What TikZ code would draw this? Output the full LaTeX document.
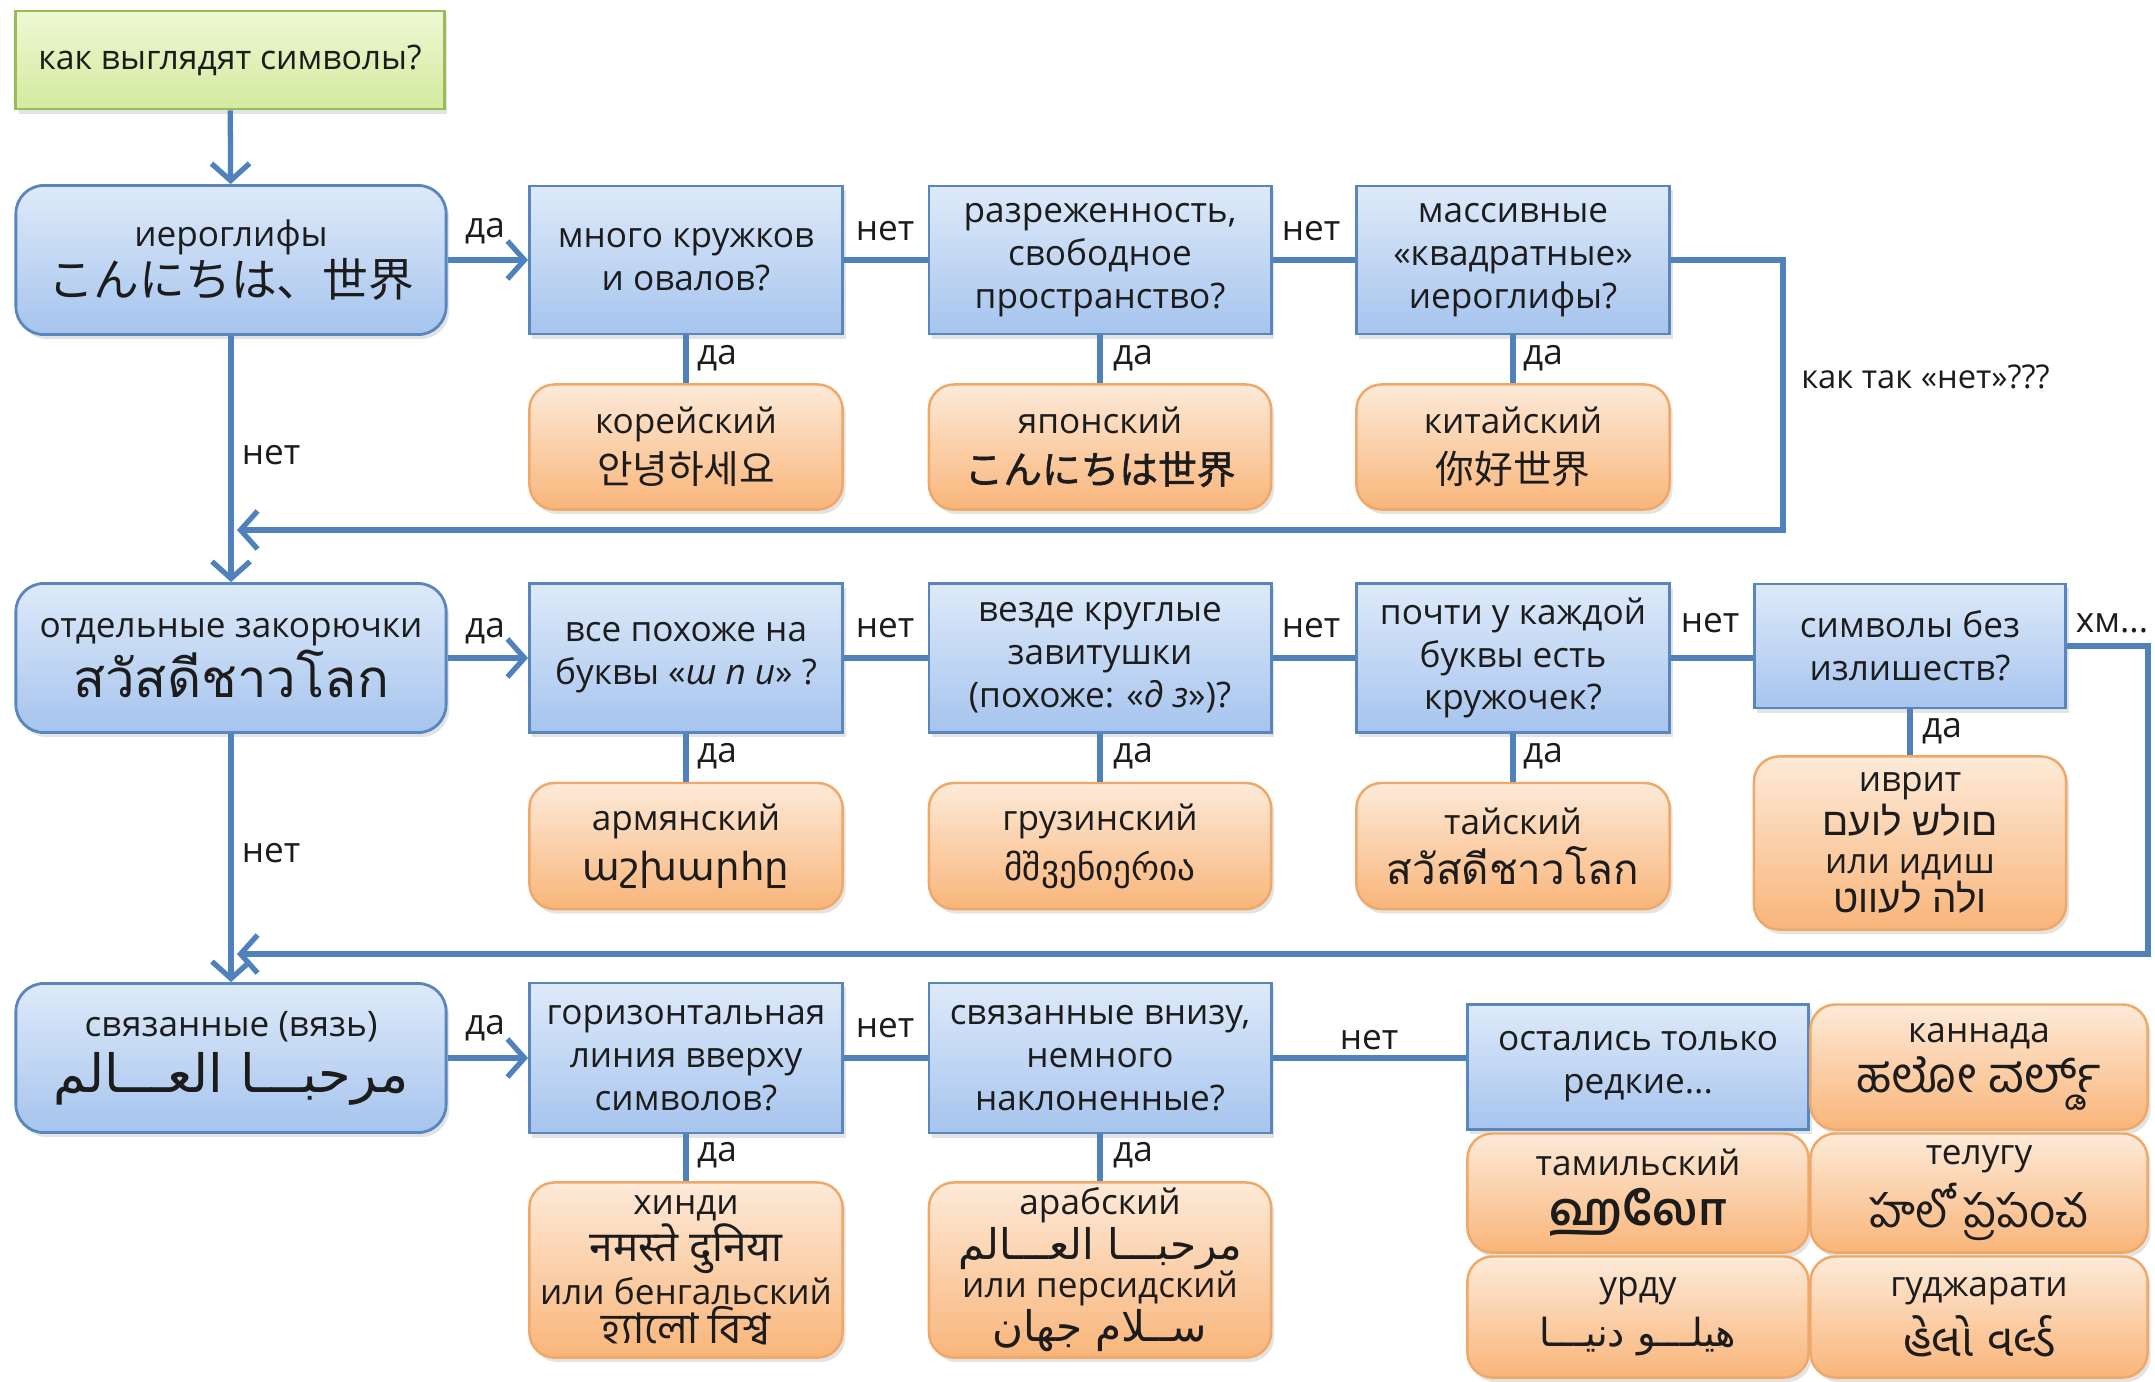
\documentclass[tikz,border=0pt]{standalone}
\usepackage{fontspec}
\setmainfont{Open Sans}
\newfontfamily\jpfont{Noto Sans CJK JP}
\newfontfamily\jpbold[FakeBold=1.5]{Noto Sans CJK JP}
\newfontfamily\krfont{Noto Sans CJK KR}
\newfontfamily\scfont{Noto Sans CJK SC}
\newfontfamily\thaifont[Script=Thai]{Loma}
\newfontfamily\armfont{DejaVu Sans}
\newfontfamily\geofont{DejaVu Sans}
\newfontfamily\hebfont[Script=Hebrew]{Liberation Sans}
\newfontfamily\arabicfont[Script=Arabic]{DejaVu Sans}
\newfontfamily\devafont[Script=Devanagari]{Noto Sans}
\newfontfamily\bengfont[Script=Bengali]{Hind Siliguri}
\newfontfamily\tamfont[Script=Tamil]{Hind Madurai}
\newfontfamily\telfont[Script=Telugu]{Hind Guntur}
\newfontfamily\kanfont[Script=Kannada]{Hind Mysuru}
\newfontfamily\gujfont[Script=Gujarati]{Noto Sans Gujarati UI}
\TeXXeTstate=1
\usetikzlibrary{arrows.meta,shadows}
\definecolor{lnblue}{HTML}{4F81BD}
\definecolor{bluetop}{HTML}{DEEAF9}
\definecolor{bluebot}{HTML}{A6C4EE}
\definecolor{blueedge}{HTML}{5A86BE}
\definecolor{ortop}{HTML}{FDEAD8}
\definecolor{orbot}{HTML}{F9B57A}
\definecolor{oredge}{HTML}{EFA868}
\definecolor{grtop}{HTML}{EEF8D4}
\definecolor{grbot}{HTML}{D3EA9E}
\definecolor{gredge}{HTML}{9BBB59}
\definecolor{txt}{HTML}{1C1C1C}
\tikzset{
  base/.style={align=center, inner sep=0pt, text=txt,
    font=\fontsize{10}{12.2}\selectfont,
    drop shadow={shadow xshift=0.03cm, shadow yshift=-0.045cm, opacity=0.22}},
  qbox/.style={base, draw=blueedge, line width=0.8pt, top color=bluetop, bottom color=bluebot},
  lbox/.style={qbox, rounded corners=0.28cm},
  rbox/.style={base, draw=oredge, line width=0.7pt, top color=ortop, bottom color=orbot, rounded corners=0.25cm},
  sbox/.style={base, draw=gredge, line width=0.8pt, top color=grtop, bottom color=grbot},
  conn/.style={draw=lnblue, line width=1.5pt},
  arr/.style={conn, -{Straight Barb[length=0.17cm,width=0.38cm,line width=1.5pt]}},
  lab/.style={font=\fontsize{10}{12}\selectfont, inner sep=1pt, text=txt},
}
\begin{document}
\begin{tikzpicture}[x=0.01cm,y=-0.01cm]
\useasboundingbox[fill=white] (0,0) rectangle (2155,1381);

% ---- left column
\node[sbox, minimum width=4.28cm, minimum height=0.98cm, font=\fontsize{9.6}{12}\selectfont] (start) at (230,60) {как выглядят символы?};
\node[lbox, minimum width=4.30cm, minimum height=1.49cm] (hier) at (231,260)
  {иероглифы\\{\jpfont\fontsize{13}{15}\selectfont こんにちは、世界}};
\node[lbox, minimum width=4.30cm, minimum height=1.49cm] (zak) at (231,658)
  {отдельные закорючки\\{\thaifont\fontsize{15}{15}\selectfont สวัสดีชาวโลก}};
\node[lbox, minimum width=4.30cm, minimum height=1.49cm] (svyaz) at (231,1058)
  {связанные (вязь)\\[2pt]{\arabicfont\fontsize{15}{16}\selectfont\beginR مرحبـــا العـــالم\endR}};

% ---- row 1
\node[qbox, minimum width=3.13cm, minimum height=1.48cm] (q11) at (686,260) {много кружков\\и овалов?};
\node[qbox, minimum width=3.42cm, minimum height=1.48cm] (q12) at (1100,260) {разреженность,\\свободное\\пространство?};
\node[qbox, minimum width=3.13cm, minimum height=1.48cm] (q13) at (1513,260) {массивные\\«квадратные»\\иероглифы?};
\node[rbox, minimum width=3.13cm, minimum height=1.25cm] (r11) at (686,447)
  {корейский\\[2pt]{\krfont\fontsize{11}{13}\selectfont 안녕하세요}};
\node[rbox, minimum width=3.42cm, minimum height=1.25cm] (r12) at (1100,447)
  {японский\\[2pt]{\jpbold\fontsize{11}{13}\selectfont こんにちは世界}};
\node[rbox, minimum width=3.13cm, minimum height=1.25cm] (r13) at (1513,447)
  {китайский\\[2pt]{\scfont\fontsize{11}{13}\selectfont 你好世界}};

% ---- row 2
\node[qbox, minimum width=3.13cm, minimum height=1.49cm] (q21) at (686,658) {все похоже на\\буквы «\textit{ш п и}» ?};
\node[qbox, minimum width=3.42cm, minimum height=1.49cm] (q22) at (1100,658) {везде круглые\\завитушки\\(похоже: «\textit{д з}»)?};
\node[qbox, minimum width=3.13cm, minimum height=1.49cm] (q23) at (1513,658) {почти у каждой\\буквы есть\\кружочек?};
\node[qbox, minimum width=3.11cm, minimum height=1.24cm] (q24) at (1910,646) {символы без\\излишеств?};
\node[rbox, minimum width=3.13cm, minimum height=1.26cm] (r21) at (686,846)
  {армянский\\[2pt]{\armfont\fontsize{11}{13}\selectfont աշխարհը}};
\node[rbox, minimum width=3.42cm, minimum height=1.26cm] (r22) at (1100,846)
  {грузинский\\[2pt]{\geofont\fontsize{10}{13}\selectfont მშვენიერია}};
\node[rbox, minimum width=3.13cm, minimum height=1.26cm] (r23) at (1513,846)
  {тайский\\[2pt]{\thaifont\fontsize{12}{13}\selectfont สวัสดีชาวโลก}};
\node[rbox, minimum width=3.12cm, minimum height=1.73cm, font=\fontsize{10}{11}\selectfont] (r24) at (1910,843)
  {иврит\\{\hebfont\fontsize{11}{11}\selectfont\beginR םולש לועם\endR}\\или идиш\\{\hebfont\fontsize{11}{11}\selectfont\beginR ולה לעווט\endR}};

% ---- row 3
\node[qbox, minimum width=3.13cm, minimum height=1.50cm] (q31) at (686,1058) {горизонтальная\\линия вверху\\символов?};
\node[qbox, minimum width=3.42cm, minimum height=1.50cm] (q32) at (1100,1058) {связанные внизу,\\немного\\наклоненные?};
\node[rbox, minimum width=3.13cm, minimum height=1.75cm, font=\fontsize{10}{11}\selectfont] (r31) at (686,1270)
  {хинди\\{\devafont\fontsize{12}{12}\selectfont नमस्ते दुनिया}\\или бенгальский\\{\bengfont\fontsize{12}{12}\selectfont হ্যালো বিশ্ব}};
\node[rbox, minimum width=3.42cm, minimum height=1.75cm, font=\fontsize{10}{11}\selectfont] (r32) at (1100,1270)
  {арабский\\{\arabicfont\fontsize{12}{12}\selectfont\beginR مرحبـــا العـــالم\endR}\\или персидский\\{\arabicfont\fontsize{12}{12}\selectfont\beginR ســلام جهان\endR}};

% ---- rare block
\node[qbox, minimum width=3.41cm, minimum height=1.25cm] (rare) at (1638,1067) {остались только\\редкие...};
\node[rbox, minimum width=3.37cm, minimum height=1.25cm] (kan) at (1979,1067)
  {каннада\\[2pt]{\kanfont\fontsize{14}{14}\selectfont ಹಲೋ ವರ್ಲ್ಡ್}};
\node[rbox, minimum width=3.41cm, minimum height=1.19cm] (tam) at (1638,1193)
  {тамильский\\[2pt]{\tamfont\bfseries\fontsize{13}{14}\selectfont ஹலோ}};
\node[rbox, minimum width=3.37cm, minimum height=1.19cm] (tel) at (1979,1193)
  {телугу\\[2pt]{\telfont\fontsize{13}{14}\selectfont హలో ప్రపంచ}};
\node[rbox, minimum width=3.41cm, minimum height=1.21cm] (urdu) at (1638,1317)
  {урду\\[2pt]{\arabicfont\fontsize{11}{13}\selectfont\beginR هیلـــو دنیـــا\endR}};
\node[rbox, minimum width=3.37cm, minimum height=1.21cm] (guj) at (1979,1317)
  {гуджарати\\[2pt]{\gujfont\fontsize{13}{14}\selectfont હેલો વર્લ્ડ}};

% ---- helper coordinates
\coordinate (k1) at (1783,530);
\coordinate (a1) at (237,530);
\coordinate (k2) at (2148,954);
\coordinate (a2) at (237,954);

% ---- connectors
\draw[arr] (start) -- (hier);
\draw[arr] (hier) -- (zak);
\draw[arr] (zak) -- (svyaz);
\draw[arr] (hier) -- (q11);
\draw[conn] (q11) -- (q12);
\draw[conn] (q12) -- (q13);
\draw[conn] (q11) -- (r11);
\draw[conn] (q12) -- (r12);
\draw[conn] (q13) -- (r13);
\draw[arr] (q13.east) -| (k1) -- (a1);

\draw[arr] (zak) -- (q21);
\draw[conn] (q21) -- (q22);
\draw[conn] (q22) -- (q23);
\draw[conn] (q23.east) -- (q23.east -| q24.west);
\draw[conn] (q21) -- (r21);
\draw[conn] (q22) -- (r22);
\draw[conn] (q23) -- (r23);
\draw[conn] (q24) -- (r24);
\draw[arr] (q24.east) -| (k2) -- (a2);

\draw[arr] (svyaz) -- (q31);
\draw[conn] (q31) -- (q32);
\draw[conn] (q32.east) -- (q32.east -| rare.west);
\draw[conn] (q31) -- (r31);
\draw[conn] (q32) -- (r32);

% ---- labels
\node[lab] at (485,231) {да};
\node[lab] at (885,231) {нет};
\node[lab] at (1311,231) {нет};
\node[lab] at (717,358) {да};
\node[lab] at (1133,358) {да};
\node[lab] at (1543,358) {да};
\node[lab, anchor=west, font=\fontsize{9.3}{11}\selectfont] at (1797,377) {как так «нет»???};
\node[lab] at (271,455) {нет};

\node[lab] at (485,631) {да};
\node[lab] at (885,628) {нет};
\node[lab] at (1311,628) {нет};
\node[lab] at (1710,623) {нет};
\node[lab] at (2112,623) {хм...};
\node[lab] at (717,756) {да};
\node[lab] at (1133,756) {да};
\node[lab] at (1543,756) {да};
\node[lab] at (1942,731) {да};
\node[lab] at (271,853) {нет};

\node[lab] at (485,1028) {да};
\node[lab] at (885,1028) {нет};
\node[lab] at (1369,1040) {нет};
\node[lab] at (717,1155) {да};
\node[lab] at (1133,1155) {да};
\end{tikzpicture}
\end{document}
